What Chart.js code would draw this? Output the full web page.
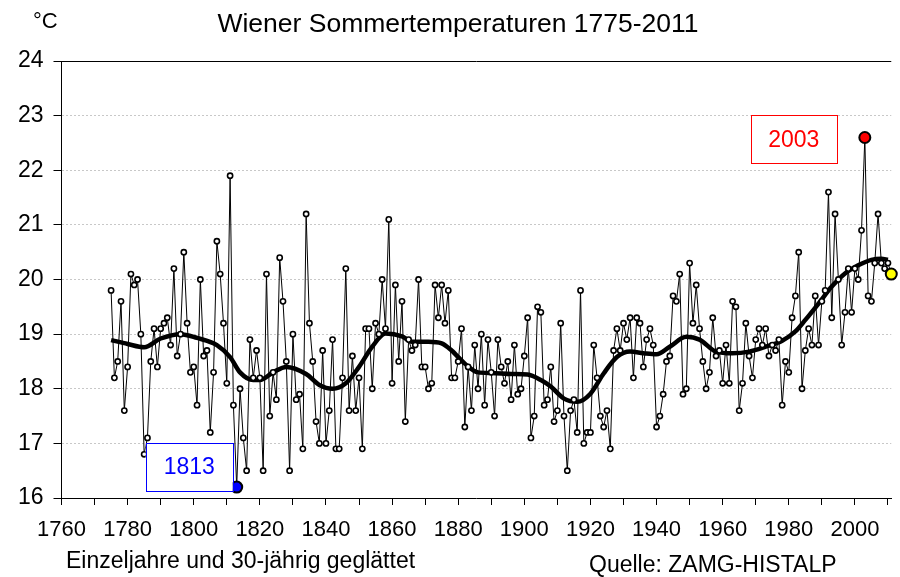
<!DOCTYPE html>
<html>
<head>
<meta charset="utf-8">
<script src="https://cdn.jsdelivr.net/npm/chart.js@4"></script>
<style>
  html, body { margin: 0; padding: 0; background: #fff; }
</style>
</head>
<body>
<canvas id="tempChart" width="900" height="577"></canvas>
<script>
// Wiener Sommertemperaturen, Einzeljahre 1775-2011 (°C)
const firstYear = 1775;
const summerTemps = [
  19.8, 18.2, 18.5, 19.6, 17.6, 18.4, 20.1, 19.9, 20.0, 19.0,
  16.8, 17.1, 18.5, 19.1, 18.4, 19.1, 19.2, 19.3, 18.8, 20.2,
  18.6, 19.0, 20.5, 19.2, 18.3, 18.4, 17.7, 20.0, 18.6, 18.7,
  17.2, 18.3, 20.7, 20.1, 19.2, 18.1, 21.9, 17.7, 16.2, 18.0,
  17.1, 16.5, 18.9, 18.2, 18.7, 18.2, 16.5, 20.1, 17.5, 18.3,
  17.8, 20.4, 19.6, 18.5, 16.5, 19.0, 17.8, 17.9, 16.9, 21.2,
  19.2, 18.5, 17.4, 17.0, 18.7, 17.0, 17.6, 18.9, 16.9, 16.9,
  18.2, 20.2, 17.6, 18.6, 17.6, 18.2, 16.9, 19.1, 19.1, 18.0,
  19.2, 19.0, 20.0, 19.1, 21.1, 18.1, 19.9, 18.5, 19.6, 17.4,
  18.9, 18.7, 18.8, 20.0, 18.4, 18.4, 18.0, 18.1, 19.9, 19.3,
  19.9, 19.2, 19.8, 18.2, 18.2, 18.5, 19.1, 17.3, 18.4, 17.6,
  18.8, 18.0, 19.0, 17.7, 18.9, 18.3, 17.5, 18.9, 18.4, 18.1,
  18.5, 17.8, 18.8, 17.9, 18.0, 18.6, 19.3, 17.1, 17.5, 19.5,
  19.4, 17.7, 17.8, 18.4, 17.4, 17.6, 19.2, 17.5, 16.5, 17.6,
  17.8, 17.2, 19.8, 17.0, 17.2, 17.2, 18.8, 18.2, 17.5, 17.3,
  17.6, 16.9, 18.7, 19.1, 18.7, 19.2, 18.9, 19.3, 18.2, 19.3,
  19.2, 18.4, 18.9, 19.1, 18.8, 17.3, 17.5, 17.9, 18.5, 18.6,
  19.7, 19.6, 20.1, 17.9, 18.0, 20.3, 19.2, 19.9, 19.1, 18.5,
  18.0, 18.3, 19.3, 18.6, 18.7, 18.1, 18.8, 18.1, 19.6, 19.5,
  17.6, 18.1, 19.2, 18.6, 18.2, 18.9, 19.1, 18.8, 19.1, 18.6,
  18.8, 18.7, 18.9, 17.7, 18.5, 18.3, 19.3, 19.7, 20.5, 18.0,
  18.7, 19.1, 18.8, 19.7, 18.8, 19.6, 19.8, 21.6, 19.3, 21.2,
  20.0, 18.8, 19.4, 20.2, 19.4, 20.2, 20.0, 20.9, 22.6, 19.7,
  19.6, 20.3, 21.2, 20.3, 20.2, 20.3, 20.1
];

const smoothYears = [1775, 1780, 1785, 1790, 1796, 1801, 1807, 1811, 1814, 1818,
  1820, 1824, 1828, 1834, 1838, 1842, 1846, 1850, 1854, 1858,
  1863, 1866, 1871, 1875, 1878, 1882, 1886, 1890, 1896, 1901,
  1905, 1908, 1912, 1916, 1920, 1924, 1928, 1932, 1936, 1940,
  1944, 1949, 1953, 1958, 1963, 1968, 1973, 1978, 1982, 1985,
  1989, 1993, 1997, 2001, 2005, 2008, 2010];
const smoothTemps = [18.89, 18.82, 18.76, 18.92, 19.0, 18.93, 18.8, 18.58, 18.3, 18.16,
  18.16, 18.3, 18.4, 18.27, 18.07, 18.0, 18.1, 18.4, 18.77, 19.01,
  18.96, 18.86, 18.86, 18.83, 18.7, 18.46, 18.3, 18.29, 18.27, 18.26,
  18.16, 18.04, 17.82, 17.76, 17.91, 18.28, 18.58, 18.68, 18.65, 18.63,
  18.77, 18.95, 18.9, 18.68, 18.65, 18.68, 18.77, 18.88, 19.05, 19.26,
  19.56, 19.87, 20.11, 20.26, 20.36, 20.38, 20.36];

const xTickValues = [1760, 1770, 1780, 1790, 1800, 1810, 1820, 1830, 1840, 1850, 1860,
  1870, 1880, 1890, 1900, 1910, 1920, 1930, 1940, 1950, 1960, 1970, 1980, 1990, 2000, 2010];
const yTickValues = [16, 17, 18, 19, 20, 21, 22, 23, 24];

// hervorgehobene Jahre
const markedYears = [1813, 2003, 2011];
const markedColors = ['#0000ff', '#ff0000', '#ffff00'];

const FONT = 'Liberation Sans, Arial, Helvetica, sans-serif';

const yearlyPoints = summerTemps.map((t, i) => ({ x: firstYear + i, y: t }));
const smoothPoints = smoothYears.map((yr, i) => ({ x: yr, y: smoothTemps[i] }));

function markIndex(ctx) {
  return markedYears.indexOf(firstYear + ctx.dataIndex);
}

// Überschriften, Beschriftungen und die beiden Kästchen
const textPlugin = {
  id: 'texts',
  afterDraw(chart) {
    const c = chart.ctx;
    const xs = chart.scales.x, ys = chart.scales.y;
    c.save();
    c.fillStyle = '#000';
    c.textBaseline = 'alphabetic';

    c.font = '26.5px ' + FONT;
    c.textAlign = 'center';
    c.fillText('Wiener Sommertemperaturen 1775-2011', 458, 32);

    c.font = '22px ' + FONT;
    c.textAlign = 'left';
    c.fillText('°C', 33, 28);

    c.font = '23px ' + FONT;
    c.fillText('Einzeljahre und 30-jährig geglättet', 66, 568);
    c.fillText('Quelle: ZAMG-HISTALP', 589, 572);

    // Kasten 1813
    let px = xs.getPixelForValue(1813), py = ys.getPixelForValue(16.2);
    drawBox(c, px - 4 - 87, py + 4 - 48, 87, 48, '#0000ff', '1813');
    // Kasten 2003
    px = xs.getPixelForValue(2003); py = ys.getPixelForValue(22.6);
    drawBox(c, px - 28 - 86, py - 22, 86, 48, '#ff0000', '2003');
    c.restore();
  }
};

function drawBox(c, x, y, w, h, color, label) {
  c.fillStyle = '#fff';
  c.fillRect(x, y, w, h);
  c.strokeStyle = color;
  c.lineWidth = 1;
  c.strokeRect(Math.round(x) + 0.5, Math.round(y) + 0.5, w, h);
  c.fillStyle = color;
  c.font = '23px ' + FONT;
  c.textAlign = 'center';
  c.textBaseline = 'middle';
  c.fillText(label, x + w / 2, y + h / 2 + 1);
}

const ctx = document.getElementById('tempChart').getContext('2d');
const tempChart = new Chart(ctx, {
  type: 'line',
  data: {
    datasets: [{
      label: 'Einzeljahre',
      data: yearlyPoints,
      borderColor: '#000',
      borderWidth: 1,
      tension: 0,
      clip: false,
      pointRadius: c => markIndex(c) >= 0 ? 5.5 : 2.6,
      pointBorderWidth: c => markIndex(c) >= 0 ? 2 : 1.6,
      pointBorderColor: '#000',
      pointBackgroundColor: c => {
        const k = markIndex(c);
        return k >= 0 ? markedColors[k] : '#fff';
      }
    }, {
      label: '30-jährig geglättet',
      data: smoothPoints,
      borderColor: '#000',
      borderWidth: 4.5,
      cubicInterpolationMode: 'monotone',
      pointRadius: 0,
      clip: false
    }]
  },
  options: {
    responsive: false,
    animation: false,
    devicePixelRatio: 1,
    layout: { padding: { left: 0, right: 6, top: 61, bottom: 0 } },
    plugins: {
      legend: { display: false },
      title: { display: false },
      tooltip: { enabled: false }
    },
    scales: {
      x: {
        type: 'linear',
        min: 1760,
        max: 2011,
        afterBuildTicks: s => { s.ticks = xTickValues.map(v => ({ value: v })); },
        afterFit: s => { s.height = 79; },
        ticks: {
          autoSkip: false,
          maxRotation: 0,
          padding: 12,
          color: '#000',
          font: { family: FONT, size: 22 },
          callback: v => (v % 20 === 0 && v <= 2000) ? String(v) : ''
        },
        grid: {
          drawOnChartArea: false,
          drawTicks: true,
          tickLength: 7,
          tickColor: '#000',
          tickWidth: 1
        },
        border: { color: '#000', width: 1 }
      },
      y: {
        min: 16,
        max: 24,
        afterBuildTicks: s => { s.ticks = yTickValues.map(v => ({ value: v })); },
        afterFit: s => { s.width = 61.5; },
        ticks: {
          padding: 10,
          color: '#000',
          font: { family: FONT, size: 23 }
        },
        grid: {
          color: c => (c.tick && c.tick.value === 24) ? '#000' : '#c8c8c8',
          lineWidth: 1,
          tickLength: 8,
          tickColor: '#000',
          tickWidth: 1
        },
        border: {
          color: '#000',
          width: 1,
          dash: c => (!c.tick || c.tick.value === 24) ? [] : [2, 2]
        }
      }
    }
  },
  plugins: [textPlugin]
});
</script>
</body>
</html>
